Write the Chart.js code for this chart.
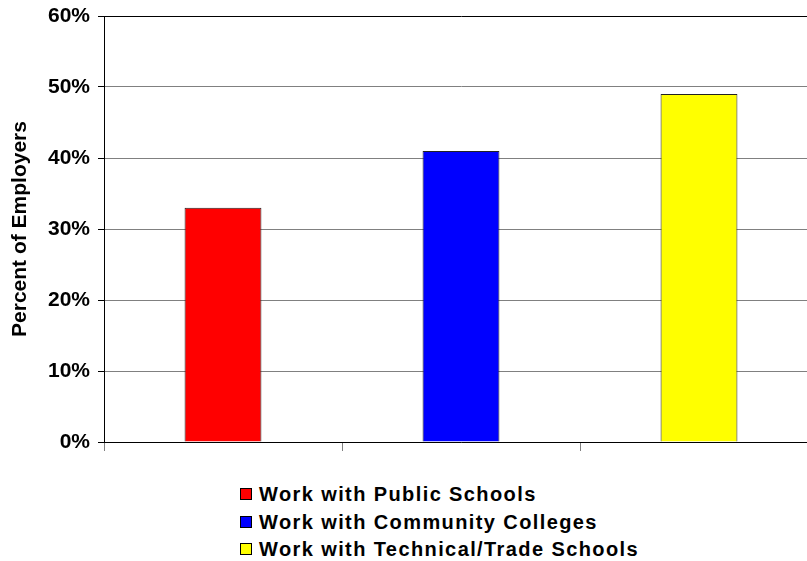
<!DOCTYPE html>
<html>
<head>
<meta charset="utf-8">
<script src="https://cdn.jsdelivr.net/npm/chart.js@4/dist/chart.umd.min.js"></script>
<style>
    html, body { margin: 0; padding: 0; background: #fff; overflow: hidden; }
    .chart-container { position: absolute; left: 0; top: 0; width: 830px; height: 470px; }
    #legend { position: absolute; left: 240px; top: 481px; font-family: Arial, "Liberation Sans", sans-serif;
        font-weight: bold; font-size: 20px; letter-spacing: 1.4px; color: #000; }
    #legend div { height: 27.5px; line-height: 27.5px; white-space: nowrap; }
    #legend span.box { display: inline-block; width: 10px; height: 10px; border: 1px solid #000;
        margin-right: 7px; vertical-align: 1px; }
</style>
</head>
<body>
<div class="chart-container">
    <canvas id="myChart" width="830" height="470"></canvas>
</div>
<div id="legend"></div>
<script>
const categories = ['Work with Public Schools', 'Work with Community Colleges', 'Work with Technical/Trade Schools'];
const percentEmployers = [33, 41, 49];
const barColors = ['#ff0000', '#0000ff', '#ffff00'];
const yTicks = [0, 10, 20, 30, 40, 50, 60];

const fontBold = { family: 'Arial, "Liberation Sans", sans-serif', size: 21, weight: 'bold' };

const chartData = {
    labels: categories,
    datasets: [{
        label: 'Percent of Employers',
        data: percentEmployers,
        backgroundColor: barColors,
        borderColor: '#222',
        borderWidth: 1,
        categoryPercentage: 1,
        barPercentage: 0.323
    }]
};

const chartOptions = {
    responsive: false,
    animation: false,
    layout: { padding: { top: 16, right: 12, left: 0, bottom: 0 } },
    scales: {
        x: {
            ticks: { display: true, callback: () => '' },
            grid: {
                offset: true,
                drawOnChartArea: false,
                tickLength: 9,
                color: '#808080'
            },
            border: { color: '#000', width: 1 },
            afterFit: s => { s.height = 28; }
        },
        y: {
            min: 0,
            max: 60,
            afterBuildTicks: s => { s.ticks = yTicks.map(v => ({ value: v })); },
            ticks: {
                callback: v => v + '%',
                color: '#000',
                font: fontBold,
                padding: 8
            },
            grid: {
                color: ctx => (ctx.tick && ctx.tick.value === 60) ? '#000' : '#808080',
                tickColor: '#000',
                tickLength: 6
            },
            border: { color: '#000', width: 1 },
            title: {
                display: true,
                text: 'Percent of Employers',
                color: '#000',
                font: fontBold,
                padding: { top: 8, bottom: 0 }
            },
            afterFit: s => {
                s.width = 104;
                s.paddingTop = 0;
                s.paddingBottom = 0;
            }
        }
    },
    plugins: {
        legend: { display: false },
        tooltip: { enabled: false }
    }
};

const ctx = document.getElementById('myChart').getContext('2d');
const chart = new Chart(ctx, { type: 'bar', data: chartData, options: chartOptions });

// html legend, one row per category
const legendEl = document.getElementById('legend');
categories.forEach((name, i) => {
    const row = document.createElement('div');
    const box = document.createElement('span');
    box.className = 'box';
    box.style.background = barColors[i];
    row.appendChild(box);
    row.appendChild(document.createTextNode(name));
    legendEl.appendChild(row);
});
</script>
</body>
</html>
